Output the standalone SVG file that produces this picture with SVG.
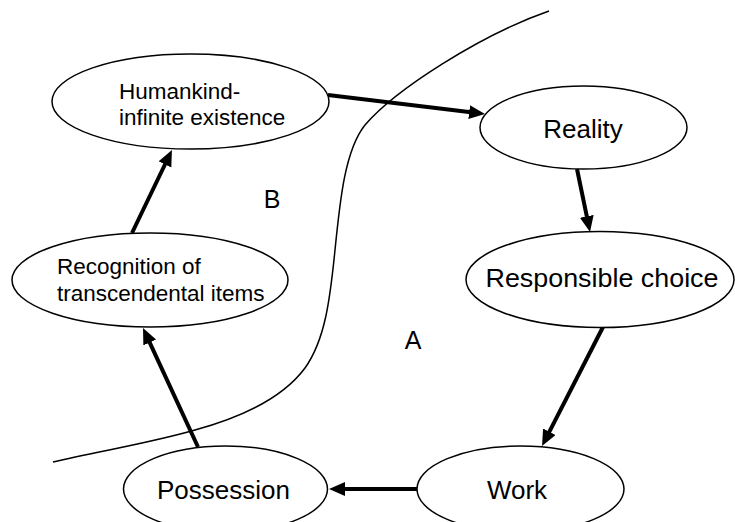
<svg xmlns="http://www.w3.org/2000/svg" width="735" height="522" viewBox="0 0 735 522">
<defs>
<style>
.node ellipse{fill:#fff;stroke:#000;stroke-width:1.5}
text{font-family:"Liberation Sans",Arial,sans-serif;fill:#000}
.big{font-size:26px;text-anchor:middle}
.small{font-size:22.5px}
.lbl{font-size:25px;text-anchor:middle}
.arrow{stroke:#000;stroke-width:4;fill:none;marker-end:url(#ah)}
.curve{stroke:#000;stroke-width:1.5;fill:none}
</style>
<marker id="ah" markerUnits="userSpaceOnUse" markerWidth="18" markerHeight="16" refX="6" refY="7" orient="auto">
<path d="M0,0 L16,7 L0,14 Z" fill="#000"/>
</marker>
</defs>
<path class="curve" d="M549,11 C480,35 395,90 365,125 C345,150 340,200 335,250 C330,300 325,340 305,368 C285,395 250,415 195,430 C150,443 100,451 53,462"/>
<g id="connectors">
<line class="arrow" x1="328" y1="95" x2="475.1" y2="112.8"/>
<line class="arrow" x1="577" y1="169" x2="588" y2="222.2"/>
<line class="arrow" x1="603" y1="327" x2="546.6" y2="437.1"/>
<line class="arrow" x1="417" y1="489" x2="339" y2="489"/>
<line class="arrow" x1="198" y1="447" x2="147.2" y2="337.1"/>
<line class="arrow" x1="132" y1="233" x2="167.6" y2="159"/>
</g>
<g id="humankind" class="node">
<ellipse cx="190.5" cy="101.5" rx="138.5" ry="47.5"/>
<text class="small" x="119" y="99">Humankind-</text>
<text class="small" x="119" y="125">infinite existence</text>
</g>
<g id="reality" class="node">
<ellipse cx="583.5" cy="127.5" rx="103.5" ry="41.5"/>
<text class="big" x="583" y="138">Reality</text>
</g>
<g id="responsible" class="node">
<ellipse cx="600" cy="279.5" rx="134" ry="48"/>
<text class="big" x="602" y="287" textLength="233" lengthAdjust="spacingAndGlyphs">Responsible choice</text>
</g>
<g id="work" class="node">
<ellipse cx="520.5" cy="489" rx="103.5" ry="43"/>
<text class="big" x="517" y="499">Work</text>
</g>
<g id="possession" class="node">
<ellipse cx="225.5" cy="489" rx="102" ry="43"/>
<text class="big" x="223.5" y="499">Possession</text>
</g>
<g id="recognition" class="node">
<ellipse cx="150" cy="280" rx="138" ry="47"/>
<text class="small" x="57" y="274">Recognition of</text>
<text class="small" x="57" y="301">transcendental items</text>
</g>
<text class="lbl" x="272" y="208">B</text>
<text class="lbl" x="413" y="349">A</text>
</svg>
